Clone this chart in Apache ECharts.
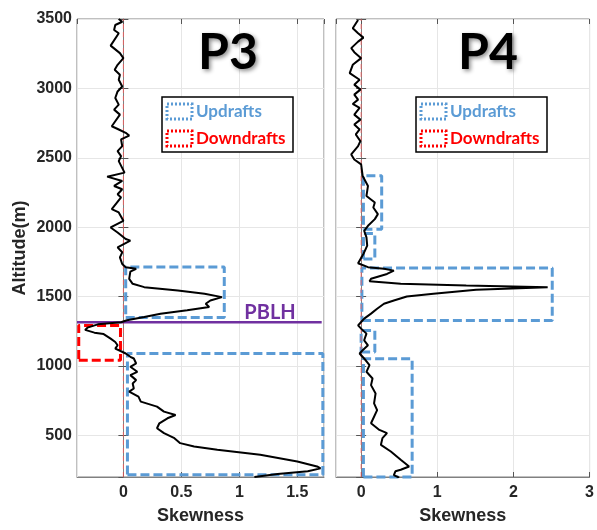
<!DOCTYPE html>
<html>
<head>
<meta charset="utf-8">
<script src="https://cdn.jsdelivr.net/npm/echarts@6/dist/echarts.min.js"></script>
<style>html,body{margin:0;padding:0;background:#fff}#c{width:597px;height:530px}</style>
</head>
<body>
<div id="c"></div>
<script>
// ---------------- data ----------------
const panelTitles = ['P3', 'P4'];
const legendLabels = ['Updrafts', 'Downdrafts'];
const xAxisName = 'Skewness';
const yAxisName = 'Altitude(m)';
const pblhLabel = 'PBLH';
const pblhAltitude = 1315;
const pblhSkewRange = [-0.4, 1.71];

const p3Alt = [3500,3480,3457,3421,3397,3308,3254,3218,3170,3134,3098,3062,3014,2978,2931,2883,2847,2811,2763,2727,2704,2680,2660,2632,2584,2548,2512,2476,2393,2364,2333,2297,2273,2237,2214,2130,2106,2046,1998,1962,1915,1903,1855,1819,1783,1735,1712,1700,1680,1628,1592,1568,1544,1520,1496,1472,1448,1425,1401,1377,1353,1329,1315,1300,1276,1260,1240,1230,1197,1173,1149,1125,1106,1090,1066,1054,1018,994,958,934,898,874,838,815,779,743,707,671,647,623,587,551,516,480,444,420,396,360,312,276,262,241,222,200];
const p3Skew = [-0.04,-0.01,-0.07,-0.08,-0.04,-0.11,-0.03,0.0,-0.05,-0.075,-0.03,-0.04,-0.01,-0.05,-0.07,-0.04,-0.08,-0.03,-0.07,-0.1,-0.04,0.02,0.05,-0.02,-0.01,-0.05,-0.02,-0.04,0.01,-0.14,-0.01,-0.08,-0.01,-0.05,-0.02,-0.1,-0.04,0.0,-0.11,-0.05,0.02,0.06,-0.05,-0.01,-0.03,-0.01,0.02,0.11,0.06,0.05,0.08,0.18,0.47,0.70,0.85,0.75,0.71,0.74,0.55,0.32,0.18,0.03,-0.02,-0.22,-0.31,-0.33,-0.25,-0.17,-0.11,-0.07,-0.05,-0.07,-0.02,0.02,0.06,0.09,0.11,0.06,0.12,0.06,0.11,0.08,0.09,0.05,0.13,0.15,0.29,0.35,0.45,0.38,0.31,0.29,0.35,0.44,0.49,0.61,0.81,1.18,1.50,1.67,1.70,1.59,1.33,1.13];

const p4Alt = [3493,3433,3397,3366,3337,3290,3261,3218,3170,3110,3062,3027,2991,2955,2919,2888,2859,2811,2775,2740,2704,2668,2620,2584,2524,2488,2453,2369,2297,2225,2178,2142,2094,2058,2010,1974,1927,1867,1807,1740,1712,1700,1687,1663,1628,1611,1592,1580,1568,1549,1520,1501,1472,1448,1412,1377,1341,1317,1293,1269,1233,1185,1149,1113,1090,1041,1006,958,910,862,802,730,682,587,539,516,480,432,384,324,276,252,241,214,195];
const p4Skew = [-0.04,-0.11,-0.04,0.03,-0.04,-0.13,-0.09,0.0,-0.11,-0.15,-0.02,-0.09,-0.01,-0.09,-0.04,-0.11,-0.02,-0.09,-0.01,-0.09,-0.02,-0.07,-0.01,-0.04,-0.13,-0.09,0.0,0.02,0.09,0.07,0.18,0.16,0.22,0.18,0.09,0.04,0.07,0.08,0.03,-0.04,0.09,0.30,0.43,0.34,0.13,0.11,0.52,1.38,2.45,1.51,0.95,0.60,0.43,0.30,0.21,0.13,0.04,0.0,-0.04,0.0,0.07,0.04,0.09,0.02,-0.02,0.06,0.11,0.07,0.15,0.13,0.19,0.17,0.21,0.13,0.24,0.34,0.28,0.26,0.39,0.52,0.63,0.52,0.45,0.43,0.5];

// boxes: [skewMin, skewMax, altMin, altMax]
const p3UpBoxes = [[0.02,0.87,1350,1714],[0.035,1.72,217,1090]];
const p3DownBoxes = [[-0.385,-0.025,1041,1292]];
const p4UpBoxes = [[0.03,0.27,1985,2370],[0.03,0.18,1770,1955],[0.01,2.51,1328,1706],[0.0,0.18,1100,1255],[0.03,0.67,200,1052]];

const p3XRange = [-0.4, 1.73];
const p4XRange = [-0.33, 3];
const altRange = [200, 3500];

// ---------------- styles ----------------
const BLUE = '#5b9bd5', RED = '#ff0000', PURPLE = '#7030a0';
const FONT = 'Liberation Sans';
const LFONT = 'Lato';
const grids = [
  {left: 77, top: 19, width: 247, height: 460},
  {left: 336, top: 19, width: 254, height: 460}
];

function pairs(xs, ys){ return xs.map((x,i)=>[x, ys[i]]); }
function boxPath(b){ return [[b[0],b[2]],[b[1],b[2]],[b[1],b[3]],[b[0],b[3]],[b[0],b[2]]]; }
function plain(v){ return String(Math.round(v*100)/100); }

const tickStyle = {show:true, inside:true, length:5, lineStyle:{color:'#555', width:1}};
const labelStyle = {color:'#262626', fontFamily: FONT, fontWeight:'bold', fontSize:16, formatter: plain};

function mkX(gi, range, pos, main){
  return {
    type:'value', gridIndex:gi, min:range[0], max:range[1], position:pos,
    splitNumber: gi===0 ? 5 : 3,
    axisLine:{show: main, lineStyle:{color:'#808080'}},
    axisTick: tickStyle,
    axisLabel: main ? Object.assign({margin:8, showMinLabel:false, showMaxLabel: gi===1}, labelStyle) : {show:false},
    splitLine:{show: main, lineStyle:{color:'#e6e6e6'}},
    name: main ? xAxisName : '', nameLocation:'middle', nameGap:30,
    nameTextStyle:{color:'#262626', fontFamily:FONT, fontWeight:'bold', fontSize:18}
  };
}
function mkY(gi, pos, main, labels){
  return {
    type:'value', gridIndex:gi, min:altRange[0], max:altRange[1], position:pos,
    splitNumber:7,
    axisLine:{show: main, lineStyle:{color:'#808080'}},
    axisTick: tickStyle,
    axisLabel: labels ? Object.assign({margin:5, showMinLabel:false}, labelStyle) : {show:false},
    splitLine:{show: main, lineStyle:{color:'#e6e6e6'}},
    name: labels ? yAxisName : '', nameLocation:'middle', nameGap:48, nameRotate:90,
    nameTextStyle:{color:'#262626', fontFamily:FONT, fontWeight:'bold', fontSize:18}
  };
}

const series = [];
function boxSeries(boxes, xi, yi, color){
  boxes.forEach(b=>series.push({
    type:'line', xAxisIndex:xi, yAxisIndex:yi, data: boxPath(b), showSymbol:false, symbol:'none',
    clip:false, silent:true, z:2,
    lineStyle:{color:color, width:3, type:[9,4]}
  }));
}
boxSeries(p3UpBoxes, 0, 0, BLUE);
boxSeries(p3DownBoxes, 0, 0, RED);
boxSeries(p4UpBoxes, 1, 1, BLUE);

// zero lines
[[0,0],[1,1]].forEach(([xi,yi])=>series.push({
  type:'line', xAxisIndex:xi, yAxisIndex:yi, data:[[0,altRange[0]],[0,altRange[1]]],
  symbol:'none', silent:true, z:3, lineStyle:{color:'rgba(245,90,90,0.8)', width:1, type:[5,3]}
}));

// PBLH
series.push({
  type:'line', xAxisIndex:0, yAxisIndex:0, data:[[pblhSkewRange[0],pblhAltitude],[pblhSkewRange[1],pblhAltitude]],
  symbol:'none', silent:true, z:5, lineStyle:{color:PURPLE, width:2.5}
});

// curves
series.push({type:'line', xAxisIndex:0, yAxisIndex:0, data:pairs(p3Skew,p3Alt), symbol:'none', z:6,
  lineStyle:{color:'#000', width:2}});
series.push({type:'line', xAxisIndex:1, yAxisIndex:1, data:pairs(p4Skew,p4Alt), symbol:'none', z:6,
  lineStyle:{color:'#000', width:2}});

function legendGraphic(x0, y0){
  return [
    {type:'rect', shape:{x:x0, y:y0, width:131, height:55}, style:{fill:'#fff', stroke:'#000', lineWidth:1.5}, z:100},
    {type:'rect', shape:{x:x0+5, y:y0+7, width:25, height:15}, style:{fill:'none', stroke:BLUE, lineWidth:3, lineDash:[2,2]}, z:101},
    {type:'rect', shape:{x:x0+5, y:y0+34, width:25, height:15}, style:{fill:'none', stroke:RED, lineWidth:3, lineDash:[2,2]}, z:101},
    {type:'text', x:x0+34, y:y0+15, z:101, style:{text:legendLabels[0], fill:BLUE, font:'bold 17px '+LFONT, textAlign:'left', textVerticalAlign:'middle'}},
    {type:'text', x:x0+34, y:y0+42, z:101, style:{text:legendLabels[1], fill:RED, font:'bold 17px '+LFONT, textAlign:'left', textVerticalAlign:'middle'}}
  ];
}
function titleGraphic(text, cx){
  return {type:'text', x:cx, y:53, z:100, style:{text:text, fill:'#000', font:'bold 50px '+LFONT,
    textAlign:'center', textVerticalAlign:'middle',
    textShadowColor:'rgba(0,0,0,0.45)', textShadowBlur:4, textShadowOffsetX:2, textShadowOffsetY:2}};
}

const option = {
  animation:false,
  backgroundColor:'#fff',
  grid: grids.map(g=>Object.assign({show:true, borderColor:'#808080', borderWidth:1, backgroundColor:'transparent'}, g)),
  xAxis:[mkX(0,p3XRange,'bottom',true), mkX(1,p4XRange,'bottom',true), mkX(0,p3XRange,'top',false), mkX(1,p4XRange,'top',false)],
  yAxis:[mkY(0,'left',true,true), mkY(1,'left',true,false), mkY(0,'right',false,false), mkY(1,'right',false,false)],
  series: series,
  graphic: [
    titleGraphic(panelTitles[0], 228),
    titleGraphic(panelTitles[1], 488),
    ...legendGraphic(162, 97),
    ...legendGraphic(416, 97),
    {type:'text', x:270, y:313, z:100, style:{text:pblhLabel, fill:PURPLE, font:'bold 20px '+LFONT, textAlign:'center', textVerticalAlign:'middle'}}
  ]
};
const chart = echarts.init(document.getElementById('c'), null, {renderer:'canvas'});
chart.setOption(option);
</script>
</body>
</html>
